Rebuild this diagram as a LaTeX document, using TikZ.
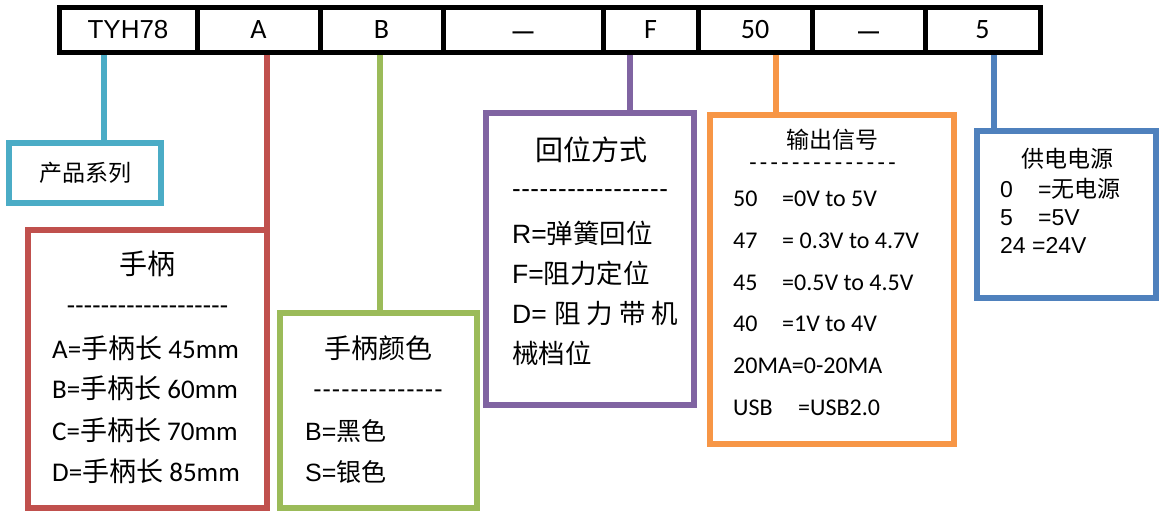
\documentclass[tikz,border=0pt]{standalone}
\usepackage{fontspec}
\setmainfont{Liberation Sans}
\newfontfamily\calfont{Carlito}
\newfontfamily\cjk{Noto Sans CJK SC}
\definecolor{ccyan}{HTML}{4BACC6}
\definecolor{cred}{HTML}{C0504D}
\definecolor{cgreen}{HTML}{9BBB59}
\definecolor{cpurple}{HTML}{8064A2}
\definecolor{corange}{HTML}{F79646}
\definecolor{cblue}{HTML}{4F81BD}
\newcount\dcnt
\newcommand\dashrow[2]{\dcnt=0 \loop\makebox[#2]{-}\advance\dcnt by 1 \ifnum\dcnt<#1 \repeat}
\newcommand\fs[1]{\fontsize{#1}{#1}\selectfont}
\tikzset{
  cell/.style={draw=black, line width=5pt, minimum height=45pt, inner sep=0pt,
    text height=17pt, text depth=0pt, font=\calfont\fs{28}},
  emcell/.style={cell, font=\bfseries\fs{21}},
  infobox/.style={draw=#1, line width=6pt, inner sep=0pt, fill=none},
  link/.style={draw=#1, line width=6pt},
  txt/.style={inner sep=0pt, anchor=base west},
  ttl/.style={inner sep=0pt, anchor=center, font=\cjk\fs{#1}},
  dsh/.style={inner sep=0pt, anchor=base},
}
\begin{document}
\begin{tikzpicture}[x=1pt,y=-1pt]
\useasboundingbox (0,0) rectangle (1160,511);
% top row cells
\node[cell, minimum width=138pt, font=\fs{26}] (c1) at (128,30.5) {TYH78};
\node[cell, minimum width=123pt] (c2) at (258.5,30.5) {A};
\node[cell, minimum width=123pt] (c3) at (381.5,30.5) {B};
\node[emcell, minimum width=160pt] (c4) at (523,30.5) {—};
\node[cell, minimum width=95pt] (c5) at (650.5,30.5) {F};
\node[cell, minimum width=114pt] (c6) at (755,30.5) {50};
\node[emcell, minimum width=113pt] (c7) at (868.5,30.5) {—};
\node[cell, minimum width=115pt] (c8) at (982.5,30.5) {5};
% connector start points
\coordinate (p1) at (104,55);
\coordinate (p2) at (267,55);
\coordinate (p3) at (380,55);
\coordinate (p4) at (630,55);
\coordinate (p5) at (776,55);
\coordinate (p6) at (994,55);
% boxes
\node[infobox=ccyan, minimum width=152pt, minimum height=60pt] (bcyan) at (85,173) {};
\node[infobox=cred, minimum width=239pt, minimum height=278pt] (bred) at (147.5,369) {};
\node[infobox=cgreen, minimum width=197pt, minimum height=195pt] (bgreen) at (378.5,410.5) {};
\node[infobox=cpurple, minimum width=208pt, minimum height=292pt] (bpurple) at (590,259) {};
\node[infobox=corange, minimum width=244pt, minimum height=329pt] (borange) at (832,279.5) {};
\node[infobox=cblue, minimum width=179pt, minimum height=167pt] (bblue) at (1066.5,214.5) {};
% connectors
\draw[link=ccyan] (p1) -- (bcyan.north -| p1);
\draw[link=cred] (p2) -- (bred.north -| p2);
\draw[link=cgreen] (p3) -- (bgreen.north -| p3);
\draw[link=cpurple] (p4) -- (bpurple.north -| p4);
\draw[link=corange] (p5) -- (borange.north -| p5);
\draw[link=cblue] (p6) -- (bblue.north -| p6);
% cyan text
\node[ttl=23] (tcyan) at (85,173) {产品系列};
% red text
\node[ttl=28] (tred) at (147.5,264) {手柄};
\node[dsh, font=\calfont\fs{27}] (dred) at (147.5,314) {\dashrow{19}{8.5pt}};
\begin{scope}[every node/.style={txt, font=\calfont\fs{27}}]
\node (r1) at (52,358) {A={\cjk 手柄长} 45mm};
\node (r2) at (52,398) {B={\cjk 手柄长} 60mm};
\node (r3) at (52,440) {C={\cjk 手柄长} 70mm};
\node (r4) at (52,481) {D={\cjk 手柄长} 85mm};
\end{scope}
% green text
\node[ttl=27] (tgreen) at (378,348) {手柄颜色};
\node[dsh, font=\fs{25}] (dgreen) at (378,397) {\dashrow{14}{9.3pt}};
\begin{scope}[every node/.style={txt, font=\fs{25}}]
\node (g1) at (305,440) {B={\cjk 黑色}};
\node (g2) at (305,481) {S={\cjk 银色}};
\end{scope}
% purple text
\node[ttl=28] (tpurple) at (591,150) {回位方式};
\node[dsh, font=\fs{26}] (dpurple) at (590,197) {\dashrow{17}{9.2pt}};
\begin{scope}[every node/.style={txt, font=\fs{26.5}}]
\node (q1) at (512,243) {R={\cjk 弹簧回位}};
\node (q2) at (512,283) {F={\cjk 阻力定位}};
\node (q3) at (512,323) {D= {\cjk 阻 力 带 机}};
\node (q4) at (512,363) {\cjk 械档位};
\end{scope}
% orange text
\node[ttl=23] (torange) at (832,140) {输出信号};
\node[dsh, font=\calfont\fs{24}] (dorange) at (822.5,170) {\dashrow{14}{10.7pt}};
\begin{scope}[every node/.style={txt, font=\calfont\fs{24}}]
\node (o1) at (733,206) {\makebox[49pt][l]{50}=0V to 5V};
\node (o2) at (733,248) {\makebox[49pt][l]{47}= 0.3V to 4.7V};
\node (o3) at (733,290) {\makebox[49pt][l]{45}=0.5V to 4.5V};
\node (o4) at (733,331) {\makebox[49pt][l]{40}=1V to 4V};
\node (o5) at (733,373) {20MA=0-20MA};
\node (o6) at (733,415) {\makebox[65pt][l]{USB}=USB2.0};
\end{scope}
% blue text
\node[ttl=23] (tblue) at (1067,159) {供电电源};
\begin{scope}[every node/.style={txt, font=\fs{23}}]
\node (u1) at (1000,197) {\makebox[38pt][l]{0}={\cjk 无电源}};
\node (u2) at (1000,225) {\makebox[38pt][l]{5}=5V};
\node (u3) at (1000,253) {24 =24V};
\end{scope}
\end{tikzpicture}
\end{document}
